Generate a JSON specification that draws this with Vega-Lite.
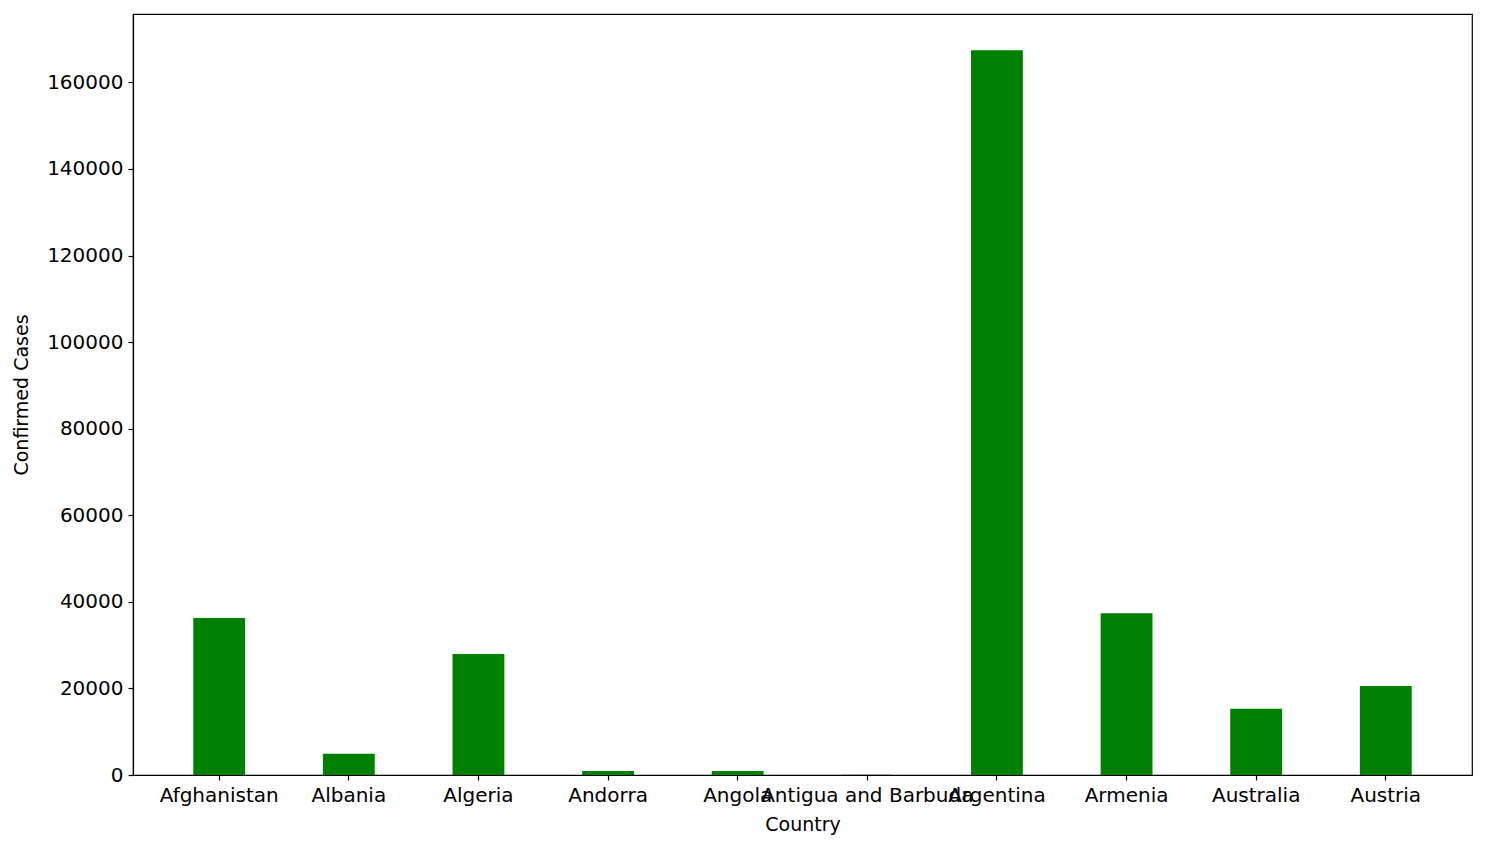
{
  "$schema": "https://vega.github.io/schema/vega-lite/v6.json",
  "description": "Confirmed cases by country",
  "autosize": "none",
  "padding": {"left": 133, "top": 14, "right": 14, "bottom": 74},
  "width": 1339,
  "height": 761,
  "background": "white",
  "config": {
    "view": {"stroke": "black", "strokeWidth": 1.2},
    "font": "DejaVu Sans",
    "axis": {
      "grid": false,
      "domainColor": "black",
      "domainWidth": 1.2,
      "tickColor": "black",
      "tickWidth": 1.2,
      "tickSize": 5,
      "labelColor": "black",
      "labelFontSize": 20,
      "titleFontSize": 19,
      "titleFontWeight": "normal",
      "titleColor": "black",
      "labelPadding": 5,
      "labelLimit": 0
    }
  },
  "data": {
    "values": [
      {"Country": "Afghanistan", "Confirmed": 36263},
      {"Country": "Albania", "Confirmed": 4880},
      {"Country": "Algeria", "Confirmed": 27973},
      {"Country": "Andorra", "Confirmed": 907},
      {"Country": "Angola", "Confirmed": 950},
      {"Country": "Antigua and Barbuda", "Confirmed": 86},
      {"Country": "Argentina", "Confirmed": 167416},
      {"Country": "Armenia", "Confirmed": 37390},
      {"Country": "Australia", "Confirmed": 15303},
      {"Country": "Austria", "Confirmed": 20558}
    ]
  },
  "mark": {"type": "bar", "color": "#008000"},
  "encoding": {
    "x": {
      "field": "Country",
      "type": "nominal",
      "sort": null,
      "title": "Country",
      "scale": {"paddingInner": 0.6, "paddingOuter": 0.465},
      "axis": {"labelAngle": 0, "labelOverlap": false, "titlePadding": 10}
    },
    "y": {
      "field": "Confirmed",
      "type": "quantitative",
      "title": "Confirmed Cases",
      "scale": {"domain": [0, 175787], "nice": false},
      "axis": {"values": [0, 20000, 40000, 60000, 80000, 100000, 120000, 140000, 160000], "format": "d", "titlePadding": 15}
    }
  }
}
